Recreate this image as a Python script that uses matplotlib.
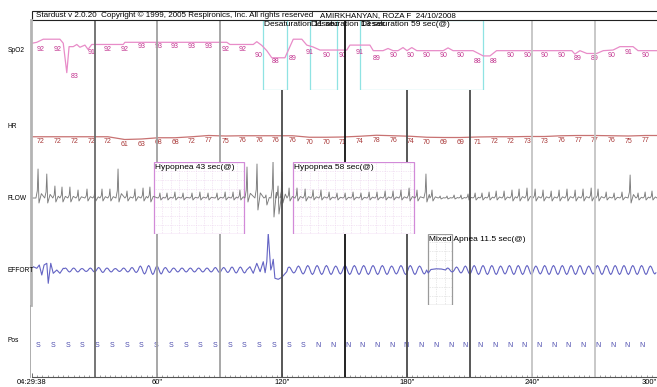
import numpy as np
import matplotlib
matplotlib.use("Agg")
import matplotlib.pyplot as plt
from matplotlib.patches import Rectangle
from matplotlib.lines import Line2D

plt.rcParams['font.family'] = ['Liberation Sans', 'DejaVu Sans']

# ---------------- data ----------------
header_left = "Stardust v 2.0.20  Copyright \u00a9 1999, 2005 Respironics, Inc. All rights reserved"
header_right = "AMIRKHANYAN, ROZA F  24/10/2008"
channels = ["SpO2", "HR", "FLOW", "EFFORT", "Pos"]

tick_vals = [0, 60, 120, 180, 240, 300]
tick_labels = ["04:29:38", '60"', '120"', '180"', '240"', '300"']

# SpO2 trace (time s, %)
spo2_t = [0.1, 2.3, 5.4, 13.4, 15.0, 16.7, 17.8, 19.8, 21.5, 23.0, 25.4, 26.9, 28.7,
          43.8, 44.6, 93.5, 95.0, 106.2, 107.9, 110.3, 112.7, 115.1, 121.4, 125.4,
          129.5, 131.9, 134.9, 138.2, 151.1, 152.6, 162.2, 163.8, 168.5, 170.9,
          173.3, 175.7, 178.1, 180.0, 182.3, 184.7, 197.4, 199.7, 202.1, 211.7,
          216.6, 219.8, 223.0, 259.1, 260.6, 263.0, 266.3, 271.1, 274.2, 278.9,
          282.2, 288.5, 290.9, 300.0]
spo2_v = [92.7, 93.0, 94.0, 94.0, 92.7, 83.2, 91.6, 91.6, 92.3, 91.4, 92.1, 90.7, 92.3,
          92.3, 93.0, 93.0, 92.3, 92.3, 93.2, 92.0, 90.3, 88.0, 88.0, 94.0,
          94.0, 92.1, 91.5, 90.5, 90.5, 92.1, 92.1, 90.3, 90.3, 91.0,
          90.3, 90.3, 91.3, 90.3, 91.3, 90.3, 90.3, 91.2, 90.3, 90.3,
          88.6, 88.6, 90.3, 90.3, 89.2, 90.3, 89.4, 89.4, 90.3, 90.5,
          91.6, 91.6, 90.3, 90.3]
spo2_labels = [92, 92, 83, 91, 92, 92, 93, 93, 93, 93, 93, 92, 92, 90, 88, 89, 91, 90,
               90, 91, 89, 90, 90, 90, 90, 90, 88, 88, 90, 90, 90, 90, 89, 89, 90, 91, 90]
hr_labels = [72, 72, 72, 72, 72, 61, 63, 68, 68, 72, 77, 75, 76, 76, 76, 76, 70, 70,
             71, 74, 78, 76, 74, 70, 69, 69, 71, 72, 72, 73, 73, 76, 77, 77, 76, 75, 77]

# FLOW breaths: peak time (s), peak, trough after peak
flow_t = [2.9, 7.1, 11.0, 14.4, 18.2, 22.1, 26.4, 30.2, 33.6, 37.4, 41.3, 45.6, 49.4,
          53.3, 56.6, 61.4, 64.8, 68.6, 72.5, 76.8, 80.6, 84.5, 88.8, 92.7, 96.5,
          99.8, 103.2, 108.0, 112.3, 115.7, 118.1, 120.0, 123.4, 127.2, 131.1,
          134.9, 138.7, 142.6, 146.4, 150.3, 154.1, 157.9, 161.8, 165.6, 169.5,
          173.3, 177.1, 181.0, 184.8, 189.1, 192.0, 195.9, 199.2, 202.6, 205.9,
          209.3, 212.7, 216.0, 219.4, 222.8, 226.6, 230.4, 233.8, 237.6, 241.5,
          245.3, 249.2, 253.0, 256.8, 260.7, 264.5, 268.4, 271.7, 275.6, 279.4,
          283.2, 287.1, 290.9, 294.3, 297.6]
flow_peak = [29, 24, 12, 11, 11, 8, 9, 8, 9, 9, 29, 7, 9,
             10, 11, 5, 5, 6, 5, 5, 6, 5, 5, 6, 6,
             8, 31, 34, 3, 37, 12, 26, 10, 10, 9,
             8, 8, 6, 5, 5, 6, 5, 6, 6, 7,
             7, 8, 10, 8, 24, 8, 2, 2, 3, 3,
             4, 5, 5, 6, 7, 7, 8, 9, 10, 9,
             8, 7, 8, 9, 8, 9, 10, 9, 6, 5,
             6, 23, 5, 6, 7]
flow_trough = [-5, -5, -4, -4, -4, -3, -3, -3, -3, -3, -4, -3, -3,
               -3, -4, -2, -2, -2, -2, -2, -2, -2, -2, -2, -2,
               -2, -4, -12, -7, -19, -16, -5, -3, -3, -3,
               -2, -2, -2, -2, -2, -2, -2, -2, -2, -2,
               -2, -2, -3, -3, -4, -3, -1, -1, -1, -1,
               -2, -2, -2, -2, -2, -2, -3, -3, -3, -3,
               -3, -3, -3, -3, -3, -3, -3, -3, -2, -2,
               -2, -5, -2, -2, -2]

# EFFORT: irregular stretches (time s, value) and cycle amplitudes of the regular stretches
eff_start_t = [0.0, 0.6, 2.3, 3.5, 4.7, 5.8, 7.1, 7.8, 9.0, 10.2, 11.9, 13.4, 15.0]
eff_start_v = [2.0, 3.3, 1.7, 5.0, -5.0, 5.0, 6.7, -13.3, 6.7, -3.3, 0.0, -3.3, 1.7]
eff_amp_b = [2, 2, 1.5, 2, 2.5, 2, 1.5, 2, 2.5, 4, 4.5, 4, 2.5, 2, 2, 2, 2, 2, 2.5, 2.5, 3, 3]
eff_mid_t = [103.0, 104.6, 106.2, 107.9, 109.5, 111.0, 111.9, 112.7, 113.4, 114.6,
             115.1, 115.8, 116.6, 118.2, 119.9, 122.3]
eff_mid_v = [0.0, 3.3, -3.3, 6.7, -1.7, 8.3, -2.7, 8.3, 36.7, 0.0,
             3.3, 10.7, -8.3, -9.3, -7.3, -1.7]
eff_amp_c = [3, 4, 4.5, 4.5, 4.5, 4, 4.5, 4.5, 4.5, 4.5, 4.5, 4, 4.5, 4.5, 4]
eff_flat_t = [189.4, 190.2, 191.5, 194.0, 196.5, 198.5]
eff_flat_v = [0.0, -3.0, 0.5, 1.2, 1.0, 0.0]
eff_amp_d = [2, 3, 4, 4.5, 4.5, 4.5, 4, 4.5, 4.5, 4.5, 4, 4.5, 4.5, 4.5, 4.5, 4.5,
             4, 4.5, 4.5, 4.5, 4.5, 4.5, 4.5, 4]

pos_labels = ["S"] * 19 + ["N"] * 23

# events
desat = [(110.9, 11.5, "Desaturation 11 sec"),
         (133.4, 13.0, "Desaturation 13 sec"),
         (157.4, 59.0, "Desaturation 59 sec(@)")]
hypop = [(58.6, 43.0, "Hypopnea 43 sec(@)"),
         (125.3, 58.0, "Hypopnea 58 sec(@)")]
apnea = [(190.0, 11.5, "Mixed Apnea 11.5 sec(@)")]

vline_t = [30, 60, 90, 120, 150, 180, 210, 240, 270]
vline_c = ["#6a6a6a", "#a0a0a0", "#a0a0a0", "#4a4a4a", "#111111", "#4a4a4a",
           "#4a4a4a", "#c4c4c4", "#c4c4c4"]

# ---------------- figure ----------------
W, H = 657, 387
fig = plt.figure(figsize=(W / 100, H / 100), dpi=100)
X0, X1 = 32, 657


def add_ax(ytop, ybot, ylim):
    ax = fig.add_axes([X0 / W, 1 - ybot / H, (X1 - X0) / W, (ybot - ytop) / H])
    ax.set_xlim(0, 300)
    ax.set_ylim(*ylim)
    ax.patch.set_alpha(0)
    for s in ax.spines.values():
        s.set_visible(False)
    ax.set_xticks([])
    ax.set_yticks([])
    return ax


ax_s = add_ax(20, 90, (77.6, 100.2))
ax_h = add_ax(90, 162, (-29, 259))
ax_f = add_ax(162, 234, (-36, 36))
ax_e = add_ax(234, 305, (-35, 36))
ax_p = add_ax(305, 377, (0, 1))
axes = [ax_s, ax_h, ax_f, ax_e, ax_p]
chan_y = [50, 127, 198, 270, 341]

# header
fig.add_artist(Rectangle((X0 / W, 1 - 19.5 / H), (X1 - X0 + 5) / W, 8.5 / H,
                         transform=fig.transFigure, fill=False, ec="#222222", lw=0.8))
fig.text(36.5 / W, 1 - 15.3 / H, header_left, fontsize=5.75, va="center", ha="left")
fig.text(320 / W, 1 - 15.3 / H, header_right, fontsize=5.75, va="center", ha="left")

# channel labels
for name, y in zip(channels, chan_y):
    fig.text(8 / W, 1 - y / H, name, fontsize=4.8, va="center", ha="left")

# left border bars
fig.add_artist(Line2D([31 / W, 31 / W], [1 - 20 / H, 1 - 305 / H], transform=fig.transFigure,
                      color="#b4b4b4", lw=2.0))
fig.add_artist(Line2D([29.5 / W, 29.5 / W], [1 - 305 / H, 1 - 377 / H], transform=fig.transFigure,
                      color="#a0a0a0", lw=0.6))

# channel separators (dotted)
for ax in [ax_s, ax_h, ax_f, ax_e]:
    ax.axhline(ax.get_ylim()[0], color="#a8a8a8", lw=0.6, ls=(0, (1, 1.5)), zorder=1)

# vertical 30 s lines, hidden inside event boxes
boxes_by_ax = {id(ax_s): desat, id(ax_f): hypop, id(ax_e): apnea}
for ax in axes:
    evs = boxes_by_ax.get(id(ax), [])
    for t, c in zip(vline_t, vline_c):
        if any(t0 <= t <= t0 + d for t0, d, _ in evs):
            continue
        ax.axvline(t, color=c, lw=1.3, zorder=5)

# desaturation boxes
for t0, d, lab in desat:
    ax_s.add_patch(Rectangle((t0, 77.6), d, 22.6, fill=False, ec="#8fe3e3", lw=0.9, zorder=2))
for t0, d, lab in desat:
    ax_s.text(t0 + 0.4, 98.7, lab, fontsize=6, va="center", ha="left", zorder=6)


# hypopnea / apnea boxes with dotted grids
def event_box(ax, t0, d, ylo, yhi, ec, gc, lab):
    for gx in np.arange(t0 + 4, t0 + d, 4.0):
        ax.plot([gx, gx], [ylo, yhi], color=gc, lw=0.5, ls=(0, (1, 1.5)), zorder=1.5)
    for gy in np.arange(ylo + 9, yhi, 9.0):
        ax.plot([t0, t0 + d], [gy, gy], color=gc, lw=0.5, ls=(0, (1, 1.5)), zorder=1.5)
    ax.add_patch(Rectangle((t0, ylo), d, yhi - ylo, fill=False, ec=ec, lw=0.9, zorder=2))
    ax.text(t0 + 0.4, yhi - 5.5, lab, fontsize=6, va="center", ha="left", zorder=6)


for t0, d, lab in hypop:
    event_box(ax_f, t0, d, -36, 36, "#d28ad8", "#ead0ec", lab)
for t0, d, lab in apnea:
    event_box(ax_e, t0, d, -35, 36, "#9a9a9a", "#d2d2d2", lab)

# SpO2 trace + labels
lab_t = 4.2 + 8.06 * np.arange(len(spo2_labels))
ax_s.plot(spo2_t, spo2_v, color="#e88cc8", lw=0.9, zorder=3)
for t, v in zip(lab_t, spo2_labels):
    ax_s.text(t, v - 1.2, str(v), fontsize=5, color="#c2338f", ha="center", va="center", zorder=4)

# HR trace + labels
ax_h.plot(np.r_[0, lab_t, 300], np.r_[hr_labels[0], hr_labels, hr_labels[-1]],
          color="#c87272", lw=0.9, zorder=3)
for t, v in zip(lab_t, hr_labels):
    ax_h.text(t, v - 20, str(v), fontsize=5, color="#a83636", ha="center", va="center", zorder=4)

# FLOW trace
fx, fy = [0.0], [0.0]
for t, p, tr in zip(flow_t, flow_peak, flow_trough):
    fx += [t - 1.0, t - 0.35, t, t + 0.45, t + 1.6]
    fy += [0.0, 0.25 * p, p, tr, 0.15 * p]
fx.append(300.0)
fy.append(0.0)
ax_f.plot(fx, fy, color="#7c7c7c", lw=0.65, zorder=3)

# EFFORT trace
shape_ph = [0, .125, .25, .375, .5, .625, .75, .875]
shape_v = [0, .7, 1, .7, 0, -.7, -1, -.7]


def cycles(t_start, t_end, amps):
    per = (t_end - t_start) / len(amps)
    xs, ys = [], []
    for i, a in enumerate(amps):
        for ph, sv in zip(shape_ph, shape_v):
            xs.append(t_start + (i + ph) * per)
            ys.append(a * sv)
    return xs, ys


ex, ey = list(eff_start_t), list(eff_start_v)
bx, by = cycles(15.0, 103.0, eff_amp_b)
ex += bx[1:]; ey += by[1:]
ex += eff_mid_t; ey += eff_mid_v
cx, cy = cycles(122.3, 189.4, eff_amp_c)
ex += cx[1:]; ey += cy[1:]
ex += eff_flat_t; ey += eff_flat_v
dx, dy = cycles(198.5, 300.0, eff_amp_d)
ex += dx[1:]; ey += dy[1:]
ax_e.plot(ex, ey, color="#6464c4", lw=0.8, zorder=3)

# Position letters
pos_t = 3.0 + 7.07 * np.arange(len(pos_labels))
for t, s in zip(pos_t, pos_labels):
    ax_p.text(t, 0.44, s, fontsize=5, color="#4c4cae", ha="center", va="center", zorder=4)

# bottom time axis
ax_p.spines["bottom"].set_visible(True)
ax_p.spines["bottom"].set_color("#555555")
ax_p.spines["bottom"].set_linewidth(0.8)
ax_p.set_xticks(tick_vals)
ax_p.set_xticklabels(tick_labels, fontsize=5.5)
ax_p.set_xticks(np.arange(0, 300, 2.5), minor=True)
ax_p.tick_params(axis="x", which="major", direction="in", length=3, width=0.6,
                 color="#555555", pad=1.5)
ax_p.tick_params(axis="x", which="minor", direction="in", length=1.5, width=0.5,
                 color="#777777")
ax_p.get_xticklabels()[-1].set_ha("right")

fig.savefig("out.png", dpi=100)
